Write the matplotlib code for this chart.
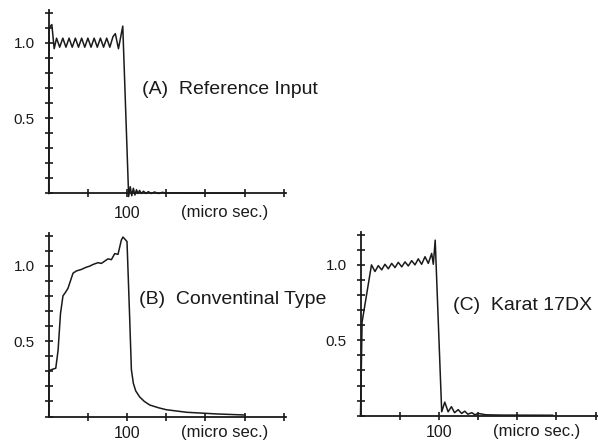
import matplotlib
matplotlib.use("Agg")
import matplotlib.pyplot as plt
from matplotlib.ticker import MultipleLocator, FixedLocator, FixedFormatter

plt.rcParams['font.family'] = ['Liberation Sans', 'DejaVu Sans']

# ---- data (time in micro seconds, normalised amplitude) ----
t_a = [0, 0.5, 4, 7, 10, 14, 18, 22, 26, 30, 34, 38, 42, 46, 50, 54, 58, 62, 66,
       70, 74, 78, 82, 85, 89, 94.5, 102, 104, 106, 108, 110, 112, 114, 116, 118,
       121, 124, 127, 131, 135, 140, 145, 150, 160, 180, 220, 250]
y_a = [0.0, 1.10, 1.12, 0.96, 1.03, 0.97, 1.03, 0.97, 1.03, 0.97, 1.03, 0.97, 1.03,
       0.97, 1.03, 0.97, 1.03, 0.97, 1.03, 0.97, 1.03, 0.97, 1.04, 1.06, 0.96, 1.11,
       -0.02, 0.045, -0.015, 0.035, -0.01, 0.025, 0.0, 0.02, 0.0, 0.015, 0.0, 0.012,
       0.0, 0.01, 0.0, 0.008, 0.003, 0.004, 0.003, 0.002, 0.002]

t_b = [0, 0.5, 3, 9, 12, 15, 18.2, 21, 24.6, 31, 35.3, 41.7, 48, 52.3, 56.5, 62.9,
       67.2, 71.4, 75.6, 80, 84.2, 88.4, 92.7, 94.8, 99.9, 103, 105.5, 108, 111,
       116, 122, 129, 140, 150, 176, 214, 250]
y_b = [0.0, 0.30, 0.31, 0.32, 0.44, 0.68, 0.80, 0.82, 0.85, 0.95, 0.965, 0.975,
       0.99, 0.997, 1.008, 1.02, 1.015, 1.03, 1.045, 1.04, 1.08, 1.075, 1.17, 1.19,
       1.16, 0.70, 0.31, 0.22, 0.17, 0.13, 0.10, 0.076, 0.058, 0.045, 0.028, 0.017,
       0.01]

t_c = [0, 1, 2, 14, 18.5, 22.7, 27, 31.2, 35.5, 39.8, 44, 48.2, 52.6, 56.8, 61,
       65.3, 69.5, 73.7, 78, 82.3, 86.5, 90.8, 92.9, 95.3, 103.6, 107.5, 111.8,
       116, 120, 124.6, 129, 133, 137, 142, 146, 150, 160, 180, 245]
y_c = [0.0, 0.30, 0.62, 1.0, 0.956, 0.995, 0.967, 1.004, 0.974, 1.01, 0.982, 1.017,
       0.987, 1.02, 0.993, 1.028, 1.0, 1.04, 1.004, 1.054, 1.01, 1.076, 1.004,
       1.164, 0.026, 0.09, 0.026, 0.06, 0.02, 0.04, 0.015, 0.03, 0.01, 0.02, 0.006,
       0.015, 0.006, 0.004, 0.003]

panel_labels = ["(A)  Reference Input", "(B)  Conventinal Type", "(C)  Karat 17DX"]
unit_label = "(micro sec.)"
ytick_labels = ["0.5", "1.0"]
xtick_label = "100"

W, H = 598, 441
fig = plt.figure(figsize=(W / 100, H / 100), dpi=100)

ink = '#1a1a1a'

def make_axes(left_px, axis_y_px):
    width_px = 237.5
    height_px = 184.0
    return fig.add_axes([left_px / W, 1 - axis_y_px / H, width_px / W, height_px / H])

def style(ax, xpad, unit_off):
    ax.set_xlim(0, 303)
    ax.set_ylim(0, 1.22)
    for s in ['top', 'right']:
        ax.spines[s].set_visible(False)
    for s in ['left', 'bottom']:
        ax.spines[s].set_linewidth(1.3)
        ax.spines[s].set_color(ink)
    ax.yaxis.set_major_locator(FixedLocator([0.5, 1.0]))
    ax.yaxis.set_major_formatter(FixedFormatter(ytick_labels))
    ax.yaxis.set_minor_locator(MultipleLocator(0.1))
    ax.xaxis.set_major_locator(FixedLocator([100]))
    ax.xaxis.set_major_formatter(FixedFormatter([xtick_label]))
    ax.xaxis.set_minor_locator(FixedLocator([50, 150, 200, 250, 300]))
    ax.tick_params(axis='both', which='both', direction='inout', length=6,
                   width=1.2, color=ink)
    ax.tick_params(axis='y', which='major', labelsize=11, pad=7, labelcolor=ink)
    ax.tick_params(axis='x', which='major', labelsize=11.5, pad=xpad, labelcolor=ink)
    ax.annotate(unit_label, xy=(225, 0), xycoords=('data', 'axes fraction'),
                xytext=(0, -unit_off), textcoords='offset points', ha='center',
                va='top', fontsize=12, color=ink)

ax_a = make_axes(48.7, 193.5)
ax_b = make_axes(48.7, 416.5)
ax_c = make_axes(360.5, 415.7)

for ax, t, y, xpad, uoff in [(ax_a, t_a, y_a, 6, 8.6), (ax_b, t_b, y_b, 3.5, 6.2),
                             (ax_c, t_c, y_c, 3.5, 6.2)]:
    style(ax, xpad, uoff)
    ax.plot(t, y, color=ink, lw=1.1, clip_on=False)

for (xp, yp), lab in zip([(141.7, 90), (139.3, 299), (453, 305)], panel_labels):
    fig.text(xp / W, 1 - yp / H, lab, fontsize=14, color=ink, ha='left',
             va='center')

fig.savefig("out.png", dpi=100)
